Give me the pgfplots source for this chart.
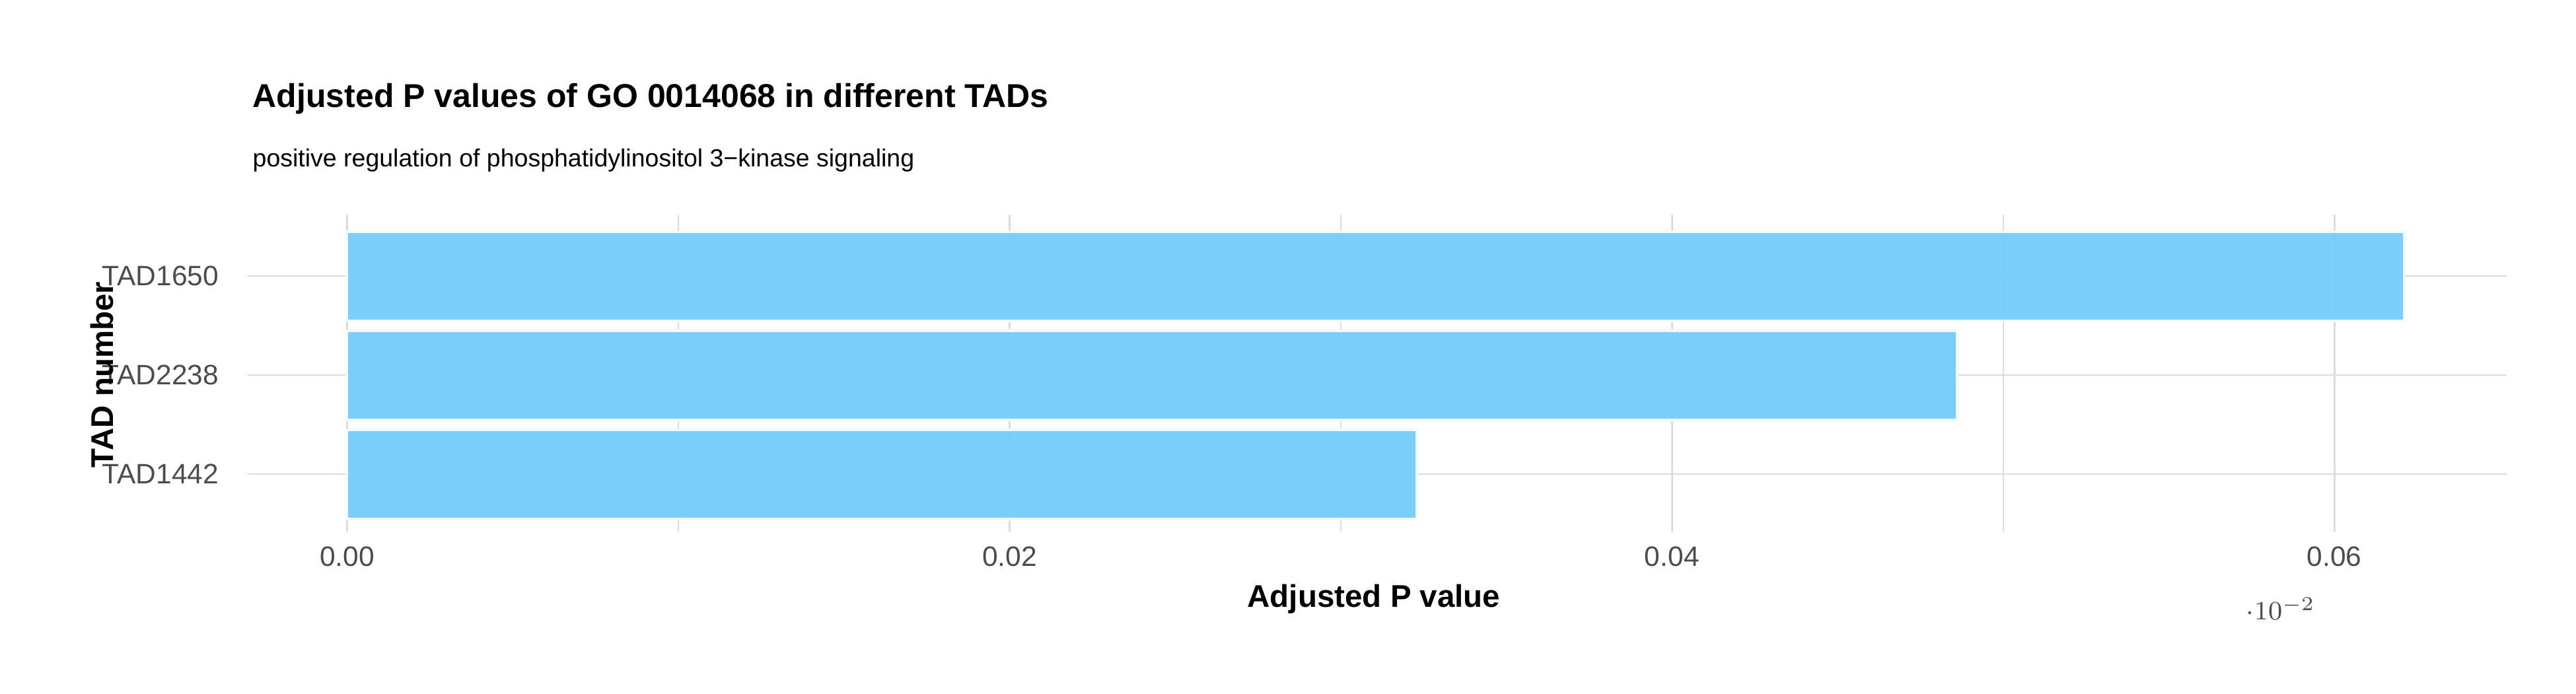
\documentclass[border=0pt]{standalone}
\usepackage{pgfplots}
\pgfplotsset{compat=1.18}
\usepackage{fontspec}
\setmainfont{Liberation Sans}
\definecolor{barc}{RGB}{115,206,250}
\definecolor{gridc}{RGB}{220,220,220}
\begin{document}
\begin{tikzpicture}
\useasboundingbox (0,0) rectangle (780pt,210pt);
\begin{axis}[
  at={(75pt,49pt)}, anchor=south west, scale only axis,
  width=684pt, height=96pt,
  xmin=-0.003, xmax=0.0652, ymin=0.42, ymax=3.62,
  axis line style={draw=none}, tick style={draw=none},
  xtick={0,0.02,0.04,0.06}, xticklabels={0.00,0.02,0.04,0.06},
  minor xtick={0.01,0.03,0.05},
  ytick={1,2,3}, yticklabels={TAD1442,TAD2238,TAD1650},
  xmajorgrids, ymajorgrids, xminorgrids,
  major grid style={gridc, line width=0.5pt},
  minor grid style={gridc, line width=0.35pt},
  ticklabel style={font=\fontsize{8.5}{10}\selectfont, text=black!70},
  /pgf/number format/assume math mode=true,
  xticklabel style={yshift=-1pt},
  yticklabel style={xshift=-1pt},
  xbar, bar width=0.9, bar shift=0pt,
]
\addplot[fill=barc, draw=white!90!barc, line width=0.8pt, fill opacity=0.95] coordinates {(0.0323,1) (0.0486,2) (0.0621,3)};
\end{axis}
\node[anchor=west, font=\fontsize{10}{12}\selectfont\bfseries] at (73pt,180pt) {Adjusted P values of GO 0014068 in different TADs};
\node[anchor=west, font=\fontsize{7.5}{9}\selectfont] at (73pt,161.5pt) {positive regulation of phosphatidylinositol 3\textminus kinase signaling};
\node[font=\fontsize{9.5}{11}\selectfont\bfseries] at (416pt,28.5pt) {Adjusted P value};
\node[rotate=90, font=\fontsize{9.5}{11}\selectfont\bfseries] at (31pt,96.5pt) {TAD number};
\end{tikzpicture}
\end{document}
